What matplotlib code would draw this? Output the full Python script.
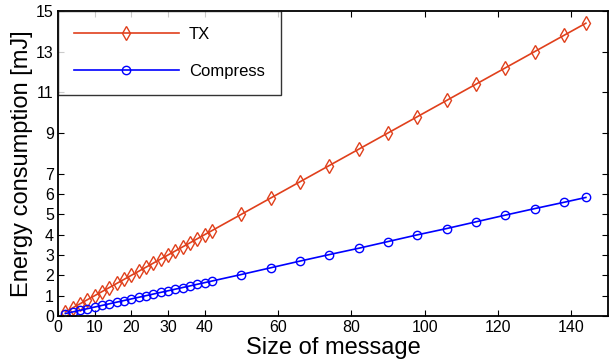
import matplotlib
matplotlib.use("Agg")
import matplotlib.pyplot as plt

plt.rcParams['font.family'] = ['Liberation Sans', 'DejaVu Sans']

msg_size = [2, 4, 6, 8, 10, 12, 14, 16, 18, 20, 22, 24, 26, 28, 30, 32, 34, 36, 38, 40, 42,
            50, 58, 66, 74, 82, 90, 98, 106, 114, 122, 130, 138, 144]
tx_energy = [0.2, 0.4, 0.6, 0.8, 1.0, 1.2, 1.4, 1.6, 1.8, 2.0, 2.2, 2.4, 2.6, 2.8, 3.0, 3.2, 3.4,
             3.6, 3.8, 4.0, 4.2,
             5.0, 5.8, 6.6, 7.4, 8.2, 9.0, 9.8, 10.6, 11.4, 12.2, 13.0, 13.8, 14.4]
compress_energy = [0.12, 0.2, 0.28, 0.36, 0.44, 0.52, 0.6, 0.68, 0.76, 0.84, 0.92, 1.0, 1.08,
                   1.16, 1.24, 1.32, 1.4, 1.48, 1.56, 1.64, 1.72,
                   2.04, 2.37, 2.70, 3.02, 3.33, 3.66, 3.99, 4.30, 4.63, 4.96, 5.28, 5.59, 5.83]
x_ticks = [0, 10, 20, 30, 40, 60, 80, 100, 120, 140]
y_ticks = [0, 1, 2, 3, 4, 5, 6, 7, 9, 11, 13, 15]

fig = plt.figure(figsize=(6.14, 3.63), dpi=100)
ax = fig.add_axes([0.0945, 0.1295, 0.8955, 0.8402])

tx_color = '#E0401C'
ax.plot(msg_size, tx_energy, color=tx_color, marker='d', markersize=7,
        markerfacecolor='none', markeredgecolor=tx_color, markeredgewidth=1.0,
        linewidth=1.2, label='TX')
ax.plot(msg_size, compress_energy, color='#0000FF', marker='o', markersize=6,
        markerfacecolor='none', markeredgecolor='#0000FF', markeredgewidth=1.0,
        linewidth=1.2, label='Compress')

ax.set_xlim(0, 150)
ax.set_ylim(0, 15)
ax.set_xticks(x_ticks)
ax.set_yticks(y_ticks)
ax.tick_params(direction='in', top=True, right=True, labelsize=11.5, length=4, width=0.8, pad=3)
for s in ax.spines.values():
    s.set_linewidth(1.3)

ax.set_xlabel('Size of message', fontsize=17, labelpad=1)
ax.set_ylabel('Energy consumption [mJ]', fontsize=17, labelpad=2)

leg = ax.legend(loc='upper left', bbox_to_anchor=(0, 1), borderaxespad=0, fontsize=12,
                frameon=True, fancybox=False, edgecolor='black', handlelength=6.3,
                borderpad=0.95, labelspacing=1.35, handletextpad=0.6)
leg.get_frame().set_linewidth(1.0)

fig.savefig('out.png', dpi=100)
